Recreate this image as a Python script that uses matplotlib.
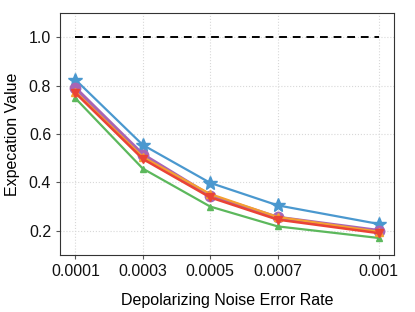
import matplotlib
matplotlib.use("Agg")
import matplotlib.pyplot as plt

plt.rcParams['font.family'] = ['Liberation Sans', 'DejaVu Sans']

error_rates = [0.0001, 0.0003, 0.0005, 0.0007, 0.001]
xtick_labels = ["0.0001", "0.0003", "0.0005", "0.0007", "0.001"]

blue_star = [0.825, 0.555, 0.398, 0.305, 0.228]
green_tri = [0.748, 0.457, 0.300, 0.218, 0.170]
purple_circ = [0.790, 0.515, 0.345, 0.255, 0.200]
orange_tri = [0.775, 0.505, 0.352, 0.257, 0.196]
red_tri = [0.770, 0.497, 0.338, 0.246, 0.190]
ideal = [1.0, 1.0]

fig = plt.figure(figsize=(4.15, 3.12), dpi=100)
ax = fig.add_axes([0.145, 0.183, 0.804, 0.775])

ax.plot([error_rates[0], error_rates[-1]], ideal, '--', color='black', lw=1.4, dashes=(4, 3))
ax.plot(error_rates, blue_star, marker='*', color='#4a98cf', lw=1.6, ms=10)
ax.plot(error_rates, green_tri, marker='^', color='#5cb85c', lw=1.6, ms=5)
ax.plot(error_rates, purple_circ, marker='o', color='#a865b5', lw=2.6, ms=7.5)
ax.plot(error_rates, orange_tri, marker='^', color='#f5a031', lw=1.6, ms=6)
ax.plot(error_rates, red_tri, marker='v', color='#ea4335', lw=1.8, ms=6)

ax.set_ylim(0.1, 1.1)
ax.set_yticks([0.2, 0.4, 0.6, 0.8, 1.0])
ax.set_xticks(error_rates)
ax.set_xticklabels(xtick_labels)
ax.grid(True, linestyle=':', color='#d8d8d8', lw=0.8)
ax.tick_params(labelsize=11.5, length=3, color='#555555', labelcolor='#111111')
for s in ax.spines.values():
    s.set_color('#333333')

ax.set_xlabel("Depolarizing Noise Error Rate", fontsize=11.5, labelpad=10)
ax.set_ylabel("Expecation Value", fontsize=11.5, labelpad=6)

fig.savefig("out.png", dpi=100)
